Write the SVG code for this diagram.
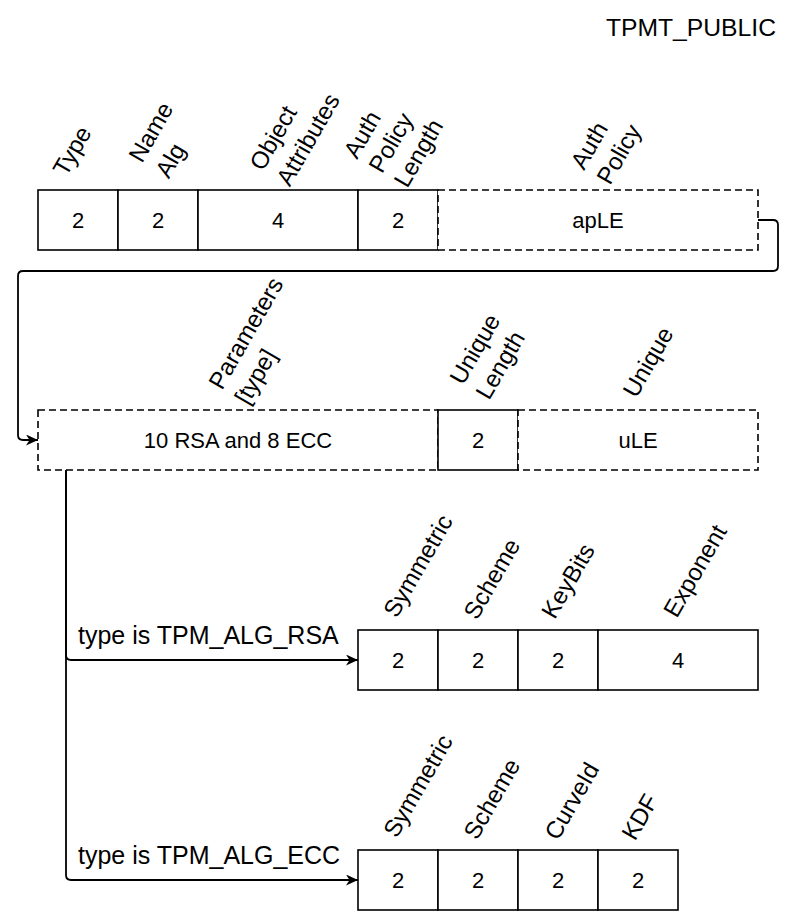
<svg xmlns="http://www.w3.org/2000/svg" width="804" height="922" viewBox="0 0 804 922">
<defs>
<style>
text{font-family:"Liberation Sans",Arial,Helvetica,sans-serif;fill:#000}
.box{fill:#fff;stroke:#000;stroke-width:1.6}
.dash{fill:#fff;stroke:#000;stroke-width:1.6;stroke-dasharray:7 4}
.val{font-size:22px;text-anchor:middle}
.lbl{font-size:24px;text-anchor:middle}
.lbs{font-size:24px}
.edge{fill:none;stroke:#000;stroke-width:1.8}
.etxt{font-size:25px}
</style>
<marker id="arr" markerWidth="13" markerHeight="11" refX="12" refY="5.5" orient="auto" markerUnits="userSpaceOnUse">
<path d="M0,0 L12,5.5 L0,11 L3.5,5.5 Z" fill="#000"/>
</marker>
</defs>
<rect width="804" height="922" fill="#fff"/>
<text id="title" x="776" y="36" font-size="24.7" text-anchor="end">TPMT_PUBLIC</text>

<g id="connectors">
<path class="edge" d="M758 220 L773 220 Q778 220 778 225 L778 266 Q778 271 773 271 L23 271 Q18 271 18 276 L18 435 Q18 440 23 440 L38 440" marker-end="url(#arr)"/>
<path class="edge" d="M66 470 L66 655 Q66 660 71 660 L358 660" marker-end="url(#arr)"/>
<path class="edge" d="M66 470 L66 875 Q66 880 71 880 L358 880" marker-end="url(#arr)"/>
<text class="etxt" x="78" y="644">type is TPM_ALG_RSA</text>
<text class="etxt" x="78" y="864">type is TPM_ALG_ECC</text>
</g>

<g id="type">
<rect class="box" x="38" y="190" width="80" height="60"/>
<text class="val" x="78" y="228">2</text>
<text class="lbl" transform="translate(74,152) rotate(-60)" dy="6">Type</text>
</g>
<g id="nameAlg">
<rect class="box" x="118" y="190" width="80" height="60"/>
<text class="val" x="158" y="228">2</text>
<text class="lbs" transform="translate(142,164) rotate(-60)"><tspan x="0" y="0">Name</tspan><tspan x="0" y="31">Alg</tspan></text>
</g>
<g id="objectAttributes">
<rect class="box" x="198" y="190" width="160" height="60"/>
<text class="val" x="278" y="228">4</text>
<text class="lbs" transform="translate(263,172) rotate(-60)"><tspan x="0" y="0">Object</tspan><tspan x="0" y="31">Attributes</tspan></text>
</g>
<g id="authPolicyLength">
<rect class="box" x="358" y="190" width="80" height="60"/>
<text class="val" x="398" y="228">2</text>
<text class="lbs" transform="translate(357,160) rotate(-60)"><tspan x="0" y="0">Auth</tspan><tspan x="0" y="29">Policy</tspan><tspan x="0" y="58">Length</tspan></text>
</g>
<g id="authPolicy">
<rect class="dash" x="438" y="190" width="320" height="60"/>
<text class="val" x="598" y="228">apLE</text>
<text class="lbs" transform="translate(584,171) rotate(-60)"><tspan x="0" y="0">Auth</tspan><tspan x="0" y="30">Policy</tspan></text>
</g>

<g id="parameters">
<rect class="dash" x="38" y="410" width="400" height="60"/>
<text class="val" x="238" y="448">10 RSA and 8 ECC</text>
<text class="lbs" transform="translate(222,391) rotate(-60)"><tspan x="0" y="0">Parameters</tspan><tspan x="0" y="30">[type]</tspan></text>
</g>
<g id="uniqueLength">
<rect class="box" x="438" y="410" width="80" height="60"/>
<text class="val" x="478" y="448">2</text>
<text class="lbs" transform="translate(463,386) rotate(-60)"><tspan x="0" y="0">Unique</tspan><tspan x="0" y="30">Length</tspan></text>
</g>
<g id="unique">
<rect class="dash" x="518" y="410" width="240" height="60"/>
<text class="val" x="638" y="448">uLE</text>
<text class="lbl" transform="translate(650,363) rotate(-60)" dy="6">Unique</text>
</g>

<g id="rsaSymmetric">
<rect class="box" x="358" y="630" width="80" height="60"/>
<text class="val" x="398" y="668">2</text>
<text class="lbl" transform="translate(420,567) rotate(-60)" dy="6">Symmetric</text>
</g>
<g id="rsaScheme">
<rect class="box" x="438" y="630" width="80" height="60"/>
<text class="val" x="478" y="668">2</text>
<text class="lbl" transform="translate(492,579) rotate(-60)" dy="8">Scheme</text>
</g>
<g id="rsaKeyBits">
<rect class="box" x="518" y="630" width="80" height="60"/>
<text class="val" x="558" y="668">2</text>
<text class="lbl" transform="translate(570,582) rotate(-60)" dy="6">KeyBits</text>
</g>
<g id="rsaExponent">
<rect class="box" x="598" y="630" width="160" height="60"/>
<text class="val" x="678" y="668">4</text>
<text class="lbl" transform="translate(697,572) rotate(-60)" dy="6">Exponent</text>
</g>

<g id="eccSymmetric">
<rect class="box" x="358" y="850" width="80" height="60"/>
<text class="val" x="398" y="888">2</text>
<text class="lbl" transform="translate(420,787) rotate(-60)" dy="6">Symmetric</text>
</g>
<g id="eccScheme">
<rect class="box" x="438" y="850" width="80" height="60"/>
<text class="val" x="478" y="888">2</text>
<text class="lbl" transform="translate(492,799) rotate(-60)" dy="8">Scheme</text>
</g>
<g id="eccCurveId">
<rect class="box" x="518" y="850" width="80" height="60"/>
<text class="val" x="558" y="888">2</text>
<text class="lbl" transform="translate(572,801) rotate(-60)" dy="8">CurveId</text>
</g>
<g id="eccKDF">
<rect class="box" x="598" y="850" width="80" height="60"/>
<text class="val" x="638" y="888">2</text>
<text class="lbl" transform="translate(640,817) rotate(-60)" dy="8">KDF</text>
</g>
</svg>
